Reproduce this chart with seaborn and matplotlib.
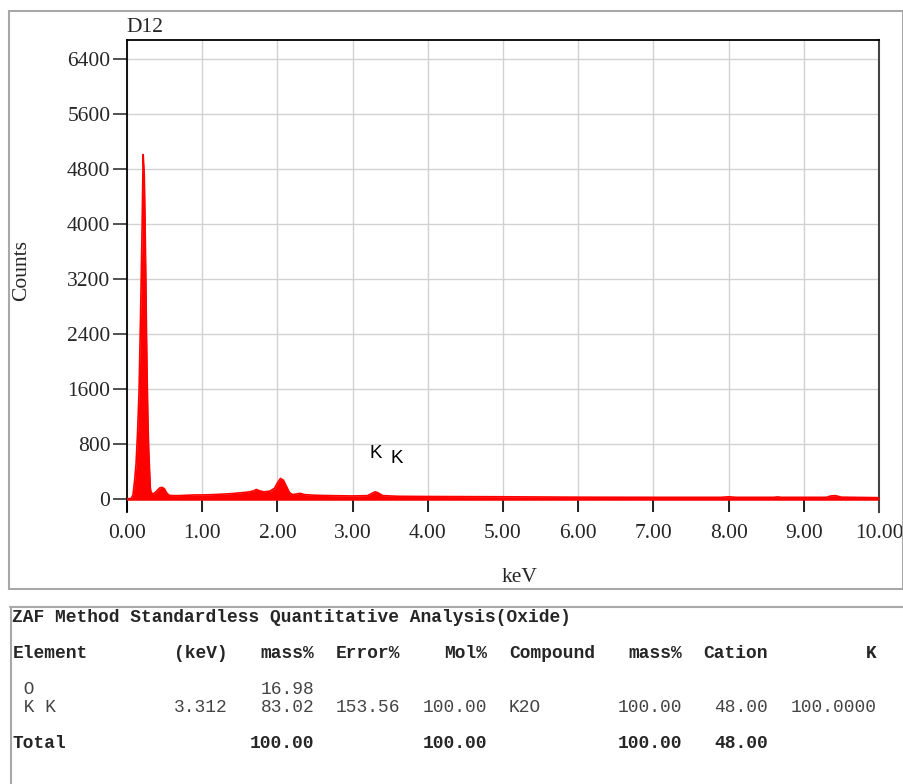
import matplotlib
matplotlib.use("Agg")
import matplotlib.pyplot as plt
import seaborn as sns
import pandas as pd
from matplotlib.patches import Rectangle
from matplotlib.lines import Line2D

# ---------------- data ----------------
kev = [0.00, 0.04, 0.06, 0.08, 0.10, 0.12, 0.14, 0.16, 0.18, 0.20, 0.215, 0.23, 0.24, 0.25,
       0.26, 0.27, 0.28, 0.29, 0.30, 0.31, 0.32, 0.35, 0.38, 0.41, 0.44, 0.47, 0.50, 0.53,
       0.56, 0.60, 0.70, 0.80, 0.90, 1.00, 1.10, 1.20, 1.30, 1.40, 1.50, 1.60, 1.68, 1.72,
       1.76, 1.82, 1.90, 1.96, 2.00, 2.04, 2.08, 2.12, 2.16, 2.20, 2.26, 2.30, 2.36, 2.50,
       2.70, 3.00, 3.20, 3.26, 3.30, 3.34, 3.40, 3.60, 4.00, 4.50, 5.00, 6.00, 7.00, 7.90,
       8.00, 8.10, 8.60, 8.65, 8.70, 9.30, 9.36, 9.42, 9.50, 10.00]
counts = [0, 0, 10, 60, 250, 500, 950, 1550, 2650, 3900, 5010, 4700, 4050, 3250,
          2350, 1650, 1050, 680, 420, 160, 90, 70, 95, 130, 160, 165, 140, 80,
          50, 45, 45, 50, 55, 55, 58, 62, 68, 75, 85, 95, 112, 135,
          115, 100, 110, 150, 230, 295, 270, 180, 90, 60, 70, 78, 60, 50,
          45, 40, 45, 80, 100, 85, 45, 35, 32, 30, 28, 22, 20, 20,
          28, 20, 20, 26, 20, 20, 40, 45, 22, 15]

peak_labels = ["K", "K"]
peak_kev = [3.311, 3.584]
peak_label_counts = [651, 589]

x_ticks = [0, 1, 2, 3, 4, 5, 6, 7, 8, 9, 10]
x_ticklabels = ["0.00", "1.00", "2.00", "3.00", "4.00", "5.00", "6.00", "7.00", "8.00", "9.00", "10.00"]
y_ticks = [0, 800, 1600, 2400, 3200, 4000, 4800, 5600, 6400]

title_line = "ZAF Method Standardless Quantitative Analysis(Oxide)"
col_headers = ["Element", "(keV)", "mass%", "Error%", "Mol%", "Compound", "mass%", "Cation", "K"]
row_O = [" O", "", "16.98", "", "", "", "", "", ""]
row_K = [" K K", "3.312", "83.02", "153.56", "100.00", "K2O", "100.00", "48.00", "100.0000"]
row_total = ["Total", "", "100.00", "", "100.00", "", "100.00", "48.00", ""]

df = pd.DataFrame({"keV": kev, "Counts": counts})

# ---------------- figure ----------------
W, H = 904, 784
DPI = 100
sns.set_style("white")
plt.rcParams["font.family"] = ["Liberation Serif", "DejaVu Serif"]
fig = plt.figure(figsize=(W / DPI, H / DPI), dpi=DPI)

def fx(px):
    return px / W

def fy(py):
    return 1 - py / H

# panel frames
fig.add_artist(Rectangle((fx(9), fy(589)), fx(903) - fx(9), fy(11) - fy(589),
                         transform=fig.transFigure, fill=False, edgecolor="#a8a8a8", linewidth=1.5))
fig.add_artist(Line2D([fx(10), fx(904)], [fy(606.5), fy(606.5)], transform=fig.transFigure,
                      color="#a8a8a8", linewidth=1.5))
fig.add_artist(Line2D([fx(10.5), fx(10.5)], [fy(606.5), 0], transform=fig.transFigure,
                      color="#a8a8a8", linewidth=1.5))

ax = fig.add_axes([fx(127), fy(512), fx(879) - fx(127), fy(40) - fy(512)])
ppu = (498.7 - 59) / 6400.0
ax.set_xlim(0, 10)
ax.set_ylim(-(512 - 498.7) / ppu, (498.7 - 40) / ppu)

ax.fill_between(df["keV"], 0, df["Counts"], color="#ff0000", linewidth=0, zorder=3)
sns.lineplot(data=df, x="keV", y="Counts", ax=ax, color="#ff0000", linewidth=1.2, zorder=3)
ax.axhline(0, color="#ff0000", linewidth=1.8, zorder=3)

for lab, xk, yc in zip(peak_labels, peak_kev, peak_label_counts):
    ax.text(xk, yc, lab, ha="center", va="center", fontsize=13.5,
            family=["Liberation Sans", "DejaVu Sans"], color="black", zorder=4)

ax.set_xticks(x_ticks)
ax.set_xticklabels(x_ticklabels)
ax.set_yticks(y_ticks)
ax.set_yticklabels([str(v) for v in y_ticks])
ax.grid(True, color="#d2d2d2", linewidth=1.0, zorder=0)
ax.set_axisbelow(True)
ax.tick_params(axis="x", direction="in", length=10, width=1.2, color="black", pad=9, labelsize=15.5)
ax.tick_params(axis="y", direction="out", length=10, width=1.2, color="#333333", pad=2, labelsize=15.5)
ax.tick_params(axis="x", which="both", bottom=True, top=False)
ax.tick_params(axis="y", which="both", left=True, right=False)
ax.spines["bottom"].set_visible(False)
for s in ["left", "top"]:
    ax.spines[s].set_color("black")
    ax.spines[s].set_linewidth(1.3)
ax.spines["right"].set_color("#444444")
ax.spines["right"].set_linewidth(1.5)
ax.set_xlabel("")
ax.set_ylabel("")

fig.text(fx(22), fy(270), "Counts", rotation=90, ha="center", va="center", fontsize=15.5)
fig.text(fx(520), fy(577), "keV", ha="center", va="center", fontsize=15.5)
fig.text(fx(126), fy(27), "D12", ha="left", va="center", fontsize=15.5)

# ---------------- table ----------------
mono = ["Liberation Mono", "DejaVu Sans Mono"]
fs = 12.9
fig.text(fx(12), fy(618), title_line, ha="left", va="center", family=mono, fontsize=fs, fontweight="bold")

# column anchors: (x pixel, alignment)
col_x = [(13, "left"), (228, "right"), (314.5, "right"), (400, "right"), (487, "right"),
         (509, "left"), (682, "right"), (768, "right"), (877, "right")]

for (x, ha), t in zip(col_x, col_headers):
    fig.text(fx(x), fy(653), t, ha=ha, va="center", family=mono, fontsize=fs, fontweight="bold")
for (x, ha), t in zip(col_x, row_O):
    if t:
        fig.text(fx(x), fy(690), t, ha=ha, va="center", family=mono, fontsize=fs, color="#444444")
for (x, ha), t in zip(col_x, row_K):
    if t:
        fig.text(fx(x), fy(707), t, ha=ha, va="center", family=mono, fontsize=fs, color="#444444")
for (x, ha), t in zip(col_x, row_total):
    if t:
        fig.text(fx(x), fy(743), t, ha=ha, va="center", family=mono, fontsize=fs, fontweight="bold")

fig.savefig("out.png", dpi=DPI)
